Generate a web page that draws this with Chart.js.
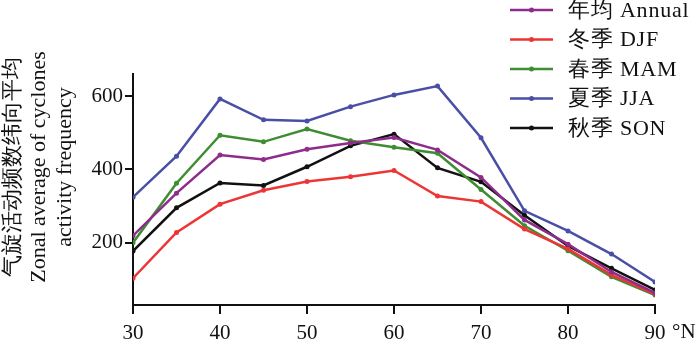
<!DOCTYPE html>
<html>
<head>
<meta charset="utf-8">
<script src="https://cdn.jsdelivr.net/npm/chart.js@4"></script>
<style>
  html, body { margin: 0; padding: 0; background: #fff; }
  #wrap { width: 700px; height: 340px; }
</style>
</head>
<body>
<div id="wrap"><canvas id="chart" width="700" height="340"></canvas></div>
<script>
// latitude, degrees north
var latitudes = [30, 35, 40, 45, 50, 55, 60, 65, 70, 75, 80, 85, 90];

var annual = [219, 335, 439, 427, 455, 472, 487, 453, 378, 262, 196, 120, 63];
var djf = [103, 228, 305, 343, 367, 380, 397, 327, 312, 237, 183, 112, 60];
var mam = [200, 362, 493, 475, 510, 478, 460, 444, 345, 246, 178, 107, 57];
var jja = [324, 436, 592, 535, 532, 571, 603, 627, 486, 287, 232, 169, 93];
var son = [177, 295, 363, 356, 407, 464, 496, 404, 366, 275, 191, 130, 71];

var seriesLabels = ['年均 Annual', '冬季 DJF', '春季 MAM', '夏季 JJA', '秋季 SON'];
var seriesColors = ['#8e2c8c', '#ee3535', '#3f8d32', '#4a4fa6', '#111111'];
var yTicks = [200, 400, 600];
var yTitle = ['气旋活动频数纬向平均', 'Zonal average of cyclones', 'activity frequency'];

var font = '"Times New Roman", "Liberation Serif", "DejaVu Serif", serif';

function toPoints(values) {
    var pts = [];
    for (var i = 0; i < latitudes.length; i++) {
        pts.push({ x: latitudes[i], y: values[i] });
    }
    return pts;
}

function makeDataset(label, values, color) {
    return {
        label: label,
        data: toPoints(values),
        borderColor: color,
        backgroundColor: color,
        borderWidth: 2.5,
        pointRadius: 2.5,
        pointBorderWidth: 0,
        pointBackgroundColor: color,
        tension: 0,
        fill: false
    };
}

var allSeries = [annual, djf, mam, jja, son];
var datasets = [];
for (var k = 0; k < allSeries.length; k++) {
    datasets.push(makeDataset(seriesLabels[k], allSeries[k], seriesColors[k]));
}

// legend in the top right corner, line + dot like the figure
var cornerLegend = {
    id: 'cornerLegend',
    afterDraw: function (chart) {
        var ctx = chart.ctx;
        ctx.save();
        ctx.font = '22px ' + font;
        ctx.letterSpacing = '0.8px';
        ctx.textBaseline = 'middle';
        ctx.textAlign = 'left';
        chart.data.datasets.forEach(function (ds, i) {
            var y = 10 + i * 29.5;
            ctx.strokeStyle = ds.borderColor;
            ctx.lineWidth = 2.5;
            ctx.beginPath();
            ctx.moveTo(510, y);
            ctx.lineTo(553, y);
            ctx.stroke();
            ctx.fillStyle = ds.borderColor;
            ctx.beginPath();
            ctx.arc(531.5, y, 2.5, 0, Math.PI * 2);
            ctx.fill();
            ctx.fillStyle = '#111';
            ctx.fillText(ds.label, 568, y + 1);
        });
        ctx.restore();
    }
};

// rotated y title, sits a bit above the middle of the axis in the figure
var sideTitle = {
    id: 'sideTitle',
    afterDraw: function (chart) {
        var ctx = chart.ctx;
        ctx.save();
        ctx.font = '22px ' + font;
        ctx.fillStyle = '#111';
        ctx.textAlign = 'center';
        ctx.textBaseline = 'middle';
        yTitle.forEach(function (line, i) {
            ctx.save();
            ctx.translate(13 + i * 26, 167);
            ctx.rotate(-Math.PI / 2);
            ctx.fillText(line, 0, 0);
            ctx.restore();
        });
        ctx.restore();
    }
};

// unit after the last x tick
var degreeUnit = {
    id: 'degreeUnit',
    afterDraw: function (chart) {
        var x = chart.scales.x;
        var ctx = chart.ctx;
        ctx.save();
        ctx.font = '21px ' + font;
        ctx.fillStyle = '#111';
        ctx.textBaseline = 'middle';
        ctx.fillText('°N', x.getPixelForValue(90) + 17, 332);
        ctx.restore();
    }
};

var config = {
    type: 'line',
    data: { datasets: datasets },
    options: {
        responsive: false,
        animation: false,
        layout: { padding: { top: 74, right: 45, left: 0, bottom: 0 } },
        plugins: {
            legend: { display: false },
            tooltip: { enabled: false }
        },
        scales: {
            x: {
                type: 'linear',
                min: 30,
                max: 90,
                ticks: { stepSize: 10, color: '#111', font: { size: 21, family: font }, padding: 7, maxRotation: 0 },
                grid: { drawOnChartArea: false, drawTicks: true, tickLength: 9, color: '#111', lineWidth: 2 },
                border: { color: '#111', width: 2 },
                afterFit: function (s) { s.height = 35; }
            },
            y: {
                min: 30,
                max: 660,
                afterBuildTicks: function (s) {
                    s.ticks = yTicks.map(function (v) { return { value: v }; });
                },
                ticks: { color: '#111', font: { size: 21, family: font }, padding: 2 },
                grid: { drawOnChartArea: false, drawTicks: true, tickLength: 8, color: '#111', lineWidth: 2 },
                border: { color: '#111', width: 2 },
                afterFit: function (s) { s.width = 133; }
            }
        }
    },
    plugins: [cornerLegend, sideTitle, degreeUnit]
};

var ctx = document.getElementById('chart').getContext('2d');
window.cycChart = new Chart(ctx, config);
</script>
</body>
</html>
